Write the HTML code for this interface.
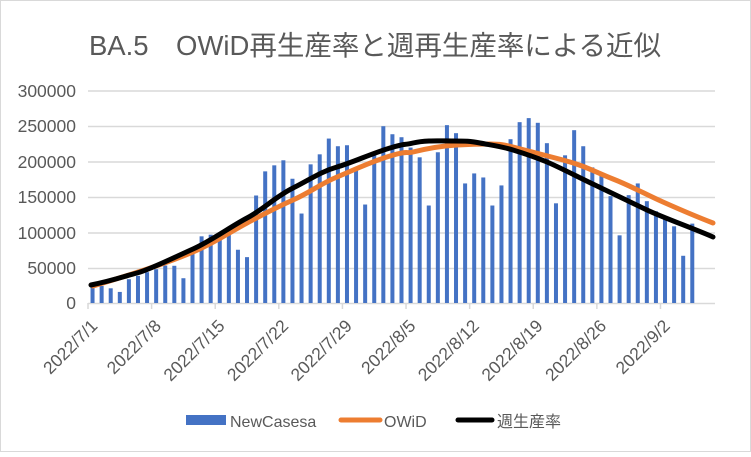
<!DOCTYPE html>
<html><head><meta charset="utf-8"><style>
body{margin:0;background:#fff}
svg text{font-family:"Liberation Sans","Noto Sans CJK JP",sans-serif;fill:#595959}
</style></head><body>
<svg width="751" height="452" xmlns="http://www.w3.org/2000/svg">
<rect x="0.5" y="0.5" width="750" height="451" fill="#fff" stroke="#d9d9d9"/>
<text x="375" y="55" font-size="27.5" text-anchor="middle">BA.5　OWiD再生産率と週再生産率による近似</text>
<g stroke="#d9d9d9" stroke-width="1.5">
<line x1="88" x2="715" y1="91" y2="91"/><line x1="88" x2="715" y1="126.5" y2="126.5"/>
<line x1="88" x2="715" y1="162" y2="162"/><line x1="88" x2="715" y1="197.5" y2="197.5"/>
<line x1="88" x2="715" y1="233" y2="233"/><line x1="88" x2="715" y1="268.5" y2="268.5"/>
<line x1="88" x2="715" y1="303.5" y2="303.5"/>
</g>
<g font-size="17.5" text-anchor="end">
<text x="76" y="97">300000</text><text x="76" y="132">250000</text><text x="76" y="168">200000</text>
<text x="76" y="203">150000</text><text x="76" y="239">100000</text><text x="76" y="274">50000</text><text x="76" y="309">0</text>
</g>
<g id="bars" fill="#4472c4"></g>
<g id="ticks" stroke="#d9d9d9" stroke-width="1.5"></g>
<g id="xl" font-size="17.5" text-anchor="end"></g>
<path d="M93,286 C140,272 170,262 193,252 S230,232 247,223 S275,208 293,200 S320,184 337,177 S370,162 390,156 S405,154 413,152 S440,146 457,145 S480,144 490,144 S505,145 513,147 S540,154 563,160 S595,172 613,179 S645,194 663,202 S700,218 713,223" fill="none" stroke="#ed7d31" stroke-width="5" stroke-linecap="round"/>
<path d="M91,285 C115,280 125,276 137,273 S175,257 193,249 S230,227 247,218 S275,197 293,188 S320,172 337,167 S370,154 390,148 S400,146 413,143 S440,141 453,141 S470,141 480,143 S500,146 513,150 S535,157 547,162 S580,178 597,186 S630,202 647,210 S695,229 713,237" fill="none" stroke="#000" stroke-width="5" stroke-linecap="round"/>
<rect x="186" y="415" width="40" height="10" fill="#4472c4"/>
<text x="230" y="427" font-size="16">NewCasesa</text>
<line x1="341" y1="420" x2="380" y2="420" stroke="#ed7d31" stroke-width="5" stroke-linecap="round"/>
<text x="384" y="427" font-size="16">OWiD</text>
<line x1="458" y1="420" x2="492" y2="420" stroke="#000" stroke-width="5" stroke-linecap="round"/>
<text x="497" y="427" font-size="16">週生産率</text>
</svg>
<script>
var v=[23100,24000,20700,15600,33500,38200,43400,47600,52800,52400,34900,70300,93900,96200,97200,99500,75000,64600,151400,185400,193900,201000,175000,126000,195300,209400,231600,220800,222200,190600,138700,209400,249000,237700,233500,218900,205200,137300,212300,250500,239200,168400,182500,176800,137300,165600,230700,254700,260400,253800,225100,140400,208000,243400,220800,191000,179700,150500,95300,151900,168400,143400,129200,122200,108000,66500,111800];
var ns="http://www.w3.org/2000/svg",w=627/69,b=document.getElementById('bars');
v.forEach(function(x,i){var r=document.createElementNS(ns,'rect');var h=x/50000*35.5;var cx=88+w*(i+0.5);
r.setAttribute('x',cx-2);r.setAttribute('width',4);r.setAttribute('y',303-h);r.setAttribute('height',h);b.appendChild(r);});
var t=document.getElementById('ticks'),xl=document.getElementById('xl');
var labs=['2022/7/1','2022/7/8','2022/7/15','2022/7/22','2022/7/29','2022/8/5','2022/8/12','2022/8/19','2022/8/26','2022/9/2'];
for(var k=0;k<10;k++){var tx=88+w*7*k;var l=document.createElementNS(ns,'line');l.setAttribute('x1',tx);l.setAttribute('x2',tx);l.setAttribute('y1',303);l.setAttribute('y2',309);t.appendChild(l);
var s=document.createElementNS(ns,'text');var ax=tx+w*0.5+6,ay=327;s.setAttribute('x',ax);s.setAttribute('y',ay);s.setAttribute('transform','rotate(-45 '+ax+' '+ay+')');s.textContent=labs[k];xl.appendChild(s);}
</script>
</body></html>
